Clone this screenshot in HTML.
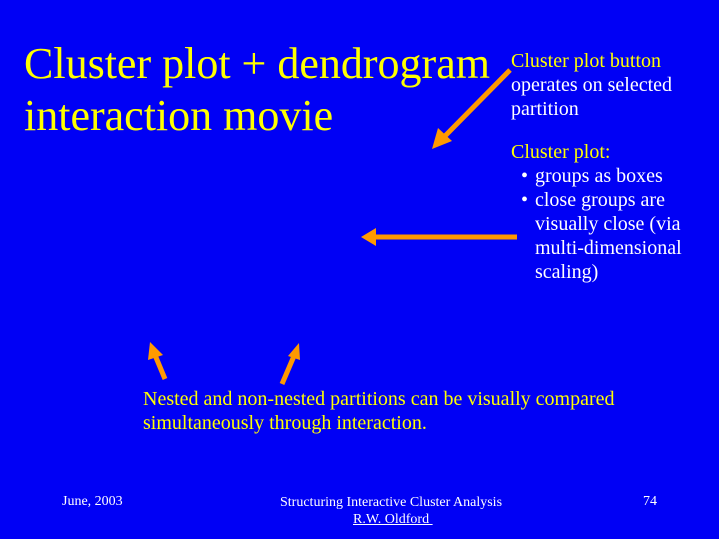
<!DOCTYPE html>
<html><head><style>
body{margin:0;width:719px;height:539px;background:#0000f5;overflow:hidden;position:relative;font-family:"Liberation Serif",serif}
div{position:absolute;white-space:nowrap}
.y{color:#ffff00}.w{color:#fff}
.t{font-size:44px;line-height:52px;color:#ffff00}
.s{font-size:20px;line-height:24px}
.f{font-size:14px;color:#fff}
</style></head><body>
<div class="t" style="left:24px;top:38px">Cluster plot + dendrogram<br>interaction movie</div>
<div class="s" style="left:511px;top:49px"><span class="y">Cluster plot button</span><br><span class="w">operates on selected<br>partition</span></div>
<div class="s y" style="left:511px;top:140px">Cluster plot:</div>
<div class="s w" style="left:521px;top:164px">•</div>
<div class="s w" style="left:535px;top:164px">groups as boxes</div>
<div class="s w" style="left:521px;top:188px">•</div>
<div class="s w" style="left:535px;top:188px">close groups are<br>visually close (via<br>multi-dimensional<br>scaling)</div>
<div class="s y" style="left:143px;top:387px">Nested and non-nested partitions can be visually compared<br>simultaneously through interaction.</div>
<div class="f" style="left:62px;top:494px">June, 2003</div>
<div class="f" style="left:280px;top:494px;line-height:17px">Structuring Interactive Cluster Analysis</div>
<div class="f" style="left:353px;top:511px;line-height:17px;text-decoration:underline">R.W. Oldford&nbsp;</div>
<div class="f" style="left:643px;top:494px">74</div>
<svg width="719" height="539" style="position:absolute;left:0;top:0">
<g stroke="#ff9900" stroke-width="5" fill="#ff9900">
<line x1="510" y1="70" x2="445" y2="136"/>
<line x1="517" y1="237" x2="375" y2="237"/>
<line x1="165" y1="379" x2="155" y2="355"/>
<line x1="282" y1="384" x2="294" y2="356"/>
</g>
<g fill="#ff9900">
<polygon points="432,149 438,128 452,141"/>
<polygon points="361,237 376,228 376,246"/>
<polygon points="150,342 148,360 163,355"/>
<polygon points="299,343 288,356 300,360"/>
</g>
</svg>
</body></html>
